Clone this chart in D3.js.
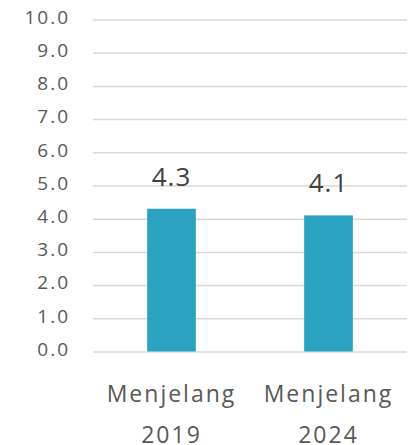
<!DOCTYPE html>
<html>
<head>
<meta charset="utf-8">
<script src="https://cdn.jsdelivr.net/npm/d3@7"></script>
<style>
  html, body { margin: 0; padding: 0; background: #fff; }
  svg { display: block; }
  text { font-family: "Open Sans", sans-serif; }
</style>
</head>
<body>
<svg id="chart" width="411" height="445"></svg>
<script>
const categories = [["Menjelang", "2019"], ["Menjelang", "2024"]];
const values = [4.3, 4.1];
const tickValues = [0, 1, 2, 3, 4, 5, 6, 7, 8, 9, 10];

const svg = d3.select("#chart");
const margin = { top: 19.5, left: 93, right: 4, bottom: 93.5 };
const width = 411, height = 445;

const x = d3.scaleBand()
  .domain(categories.map((d, i) => i))
  .range([margin.left, width - margin.right])
  .paddingInner(0.69)
  .paddingOuter(0.345);

const y = d3.scaleLinear()
  .domain([0, 10])
  .range([height - margin.bottom, margin.top]);

// horizontal gridlines with tick labels
const yAxis = d3.axisLeft(y)
  .tickValues(tickValues)
  .tickFormat(d3.format(".1f"))
  .tickSize(-(width - margin.right - margin.left))
  .tickPadding(23);

const gy = svg.append("g")
  .attr("transform", `translate(${margin.left},0)`)
  .call(yAxis);
gy.select(".domain").remove();
gy.selectAll(".tick line").attr("stroke", "#d9d9d9").attr("stroke-width", 1.5);
gy.selectAll(".tick text")
  .attr("fill", "#595959")
  .attr("font-size", 19)
  .attr("letter-spacing", 2)
  .attr("dy", "0.2em");

// bars
svg.append("g").selectAll("rect")
  .data(values)
  .join("rect")
  .attr("x", (d, i) => x(i))
  .attr("width", x.bandwidth())
  .attr("y", d => y(d))
  .attr("height", d => y(0) - y(d))
  .attr("fill", "#2ba3c0");

// value labels
svg.append("g").selectAll("text")
  .data(values)
  .join("text")
  .attr("x", (d, i) => x(i) + x.bandwidth() / 2)
  .attr("y", d => y(d) - 23)
  .attr("text-anchor", "middle")
  .attr("fill", "#404040")
  .attr("font-size", 26)
  .attr("letter-spacing", 1)
  .text(d => d3.format(".1f")(d));

// category labels, two lines each
const cat = svg.append("g").selectAll("text")
  .data(categories)
  .join("text")
  .attr("text-anchor", "middle")
  .attr("fill", "#595959")
  .attr("font-size", 23)
  .attr("letter-spacing", 2);
cat.selectAll("tspan")
  .data((d, i) => d.map(line => ({ line, i })))
  .join("tspan")
  .attr("x", d => x(d.i) + x.bandwidth() / 2)
  .attr("y", (d, j) => 401.5 + j * 41.5)
  .text(d => d.line);
</script>
</body>
</html>
